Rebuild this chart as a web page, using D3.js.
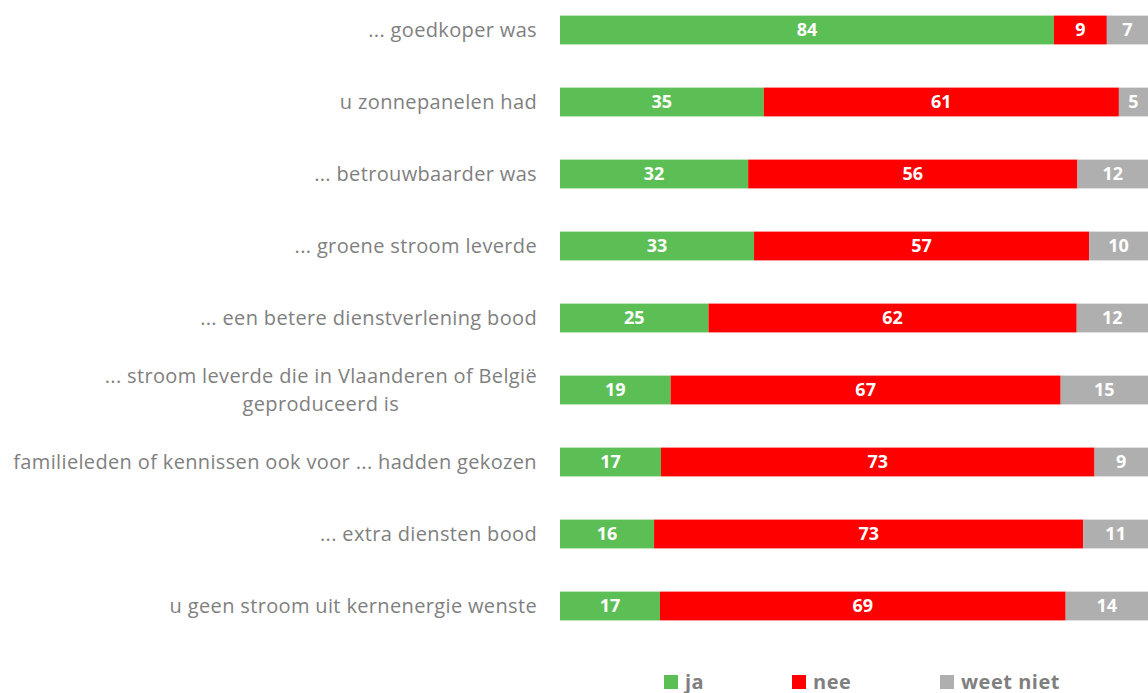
<!DOCTYPE html>
<html>
<head>
<meta charset="utf-8">
<script src="https://cdn.jsdelivr.net/npm/d3@7"></script>
<style>
    body { margin: 0; background: #fff; overflow: hidden; }
    text { font-family: 'Open Sans', Lato, sans-serif; }
</style>
</head>
<body>
<svg id="chart"></svg>
<script>
    const width = 1148;
    const height = 693;

    const categories = [
        "... goedkoper was",
        "u zonnepanelen had",
        "... betrouwbaarder was",
        "... groene stroom leverde",
        "... een betere dienstverlening bood",
        "... stroom leverde die in Vlaanderen of België\ngeproduceerd is",
        "familieleden of kennissen ook voor ... hadden gekozen",
        "... extra diensten bood",
        "u geen stroom uit kernenergie wenste"
    ];
    const ja       = [84, 35, 32, 33, 25, 19, 17, 16, 17];
    const nee      = [9, 61, 56, 57, 62, 67, 73, 73, 69];
    const weetNiet = [7, 5, 12, 10, 12, 15, 9, 11, 14];

    const seriesNames = ["ja", "nee", "weet niet"];
    const colors = ["#5cbf55", "#ff0000", "#afafaf"];

    const rows = categories.map((c, i) => ({ cat: c, "ja": ja[i], "nee": nee[i], "weet niet": weetNiet[i] }));
    // 100% stacked: each bar fills the full width
    const stacked = d3.stack().keys(seriesNames).offset(d3.stackOffsetExpand)(rows);

    const svg = d3.select('#chart').attr('width', width).attr('height', height);

    const x = d3.scaleLinear().domain([0, 1]).range([560, 1148]);
    const y = d3.scaleBand().domain(categories).range([-6, 642]).paddingInner(0.6).paddingOuter(0.3);

    const layers = svg.append('g')
        .selectAll('g.layer')
        .data(stacked)
        .enter().append('g')
        .attr('class', 'layer')
        .attr('fill', (d, i) => colors[i]);

    layers.selectAll('rect')
        .data(d => d)
        .enter().append('rect')
        .attr('x', d => x(d[0]))
        .attr('y', d => y(d.data.cat))
        .attr('width', d => x(d[1]) - x(d[0]))
        .attr('height', y.bandwidth());

    layers.selectAll('text')
        .data(d => d.map(v => ({ key: d.key, v: v })))
        .enter().append('text')
        .attr('x', d => (x(d.v[0]) + x(d.v[1])) / 2)
        .attr('y', d => y(d.v.data.cat) + y.bandwidth() / 2)
        .attr('dy', '0.36em')
        .attr('text-anchor', 'middle')
        .attr('fill', '#fff')
        .style('font-size', '18px')
        .style('font-weight', 'bold')
        .text(d => d.v.data[d.key]);

    // category labels: block right aligned, lines centered inside block
    const labels = svg.append('g');
    categories.forEach(c => {
        const lines = c.split('\n');
        const g = labels.append('g');
        const cy = y(c) + y.bandwidth() / 2;
        const lh = 28;
        const t = lines.map((ln, j) => g.append('text')
            .attr('y', cy + (j - (lines.length - 1) / 2) * lh)
            .attr('dy', '0.36em')
            .attr('text-anchor', 'middle')
            .attr('fill', '#7f7f7f')
            .style('font-size', '20px')
            .style('letter-spacing', '0.35px')
            .text(ln));
        const w = d3.max(t, s => s.node().getComputedTextLength());
        t.forEach(s => s.attr('x', 537 - w / 2));
    });

    // legend
    const legendX = [664, 792, 940];
    const legend = svg.append('g').selectAll('g')
        .data(seriesNames)
        .enter().append('g')
        .attr('transform', (d, i) => `translate(${legendX[i]},675)`);
    legend.append('rect')
        .attr('width', 14).attr('height', 14)
        .attr('fill', (d, i) => colors[i]);
    legend.append('text')
        .attr('x', 21).attr('y', 7).attr('dy', '0.36em')
        .attr('fill', '#7f7f7f')
        .style('font-size', '20px')
        .style('font-weight', 'bold')
        .style('letter-spacing', '0.5px')
        .text(d => d);
</script>
</body>
</html>
